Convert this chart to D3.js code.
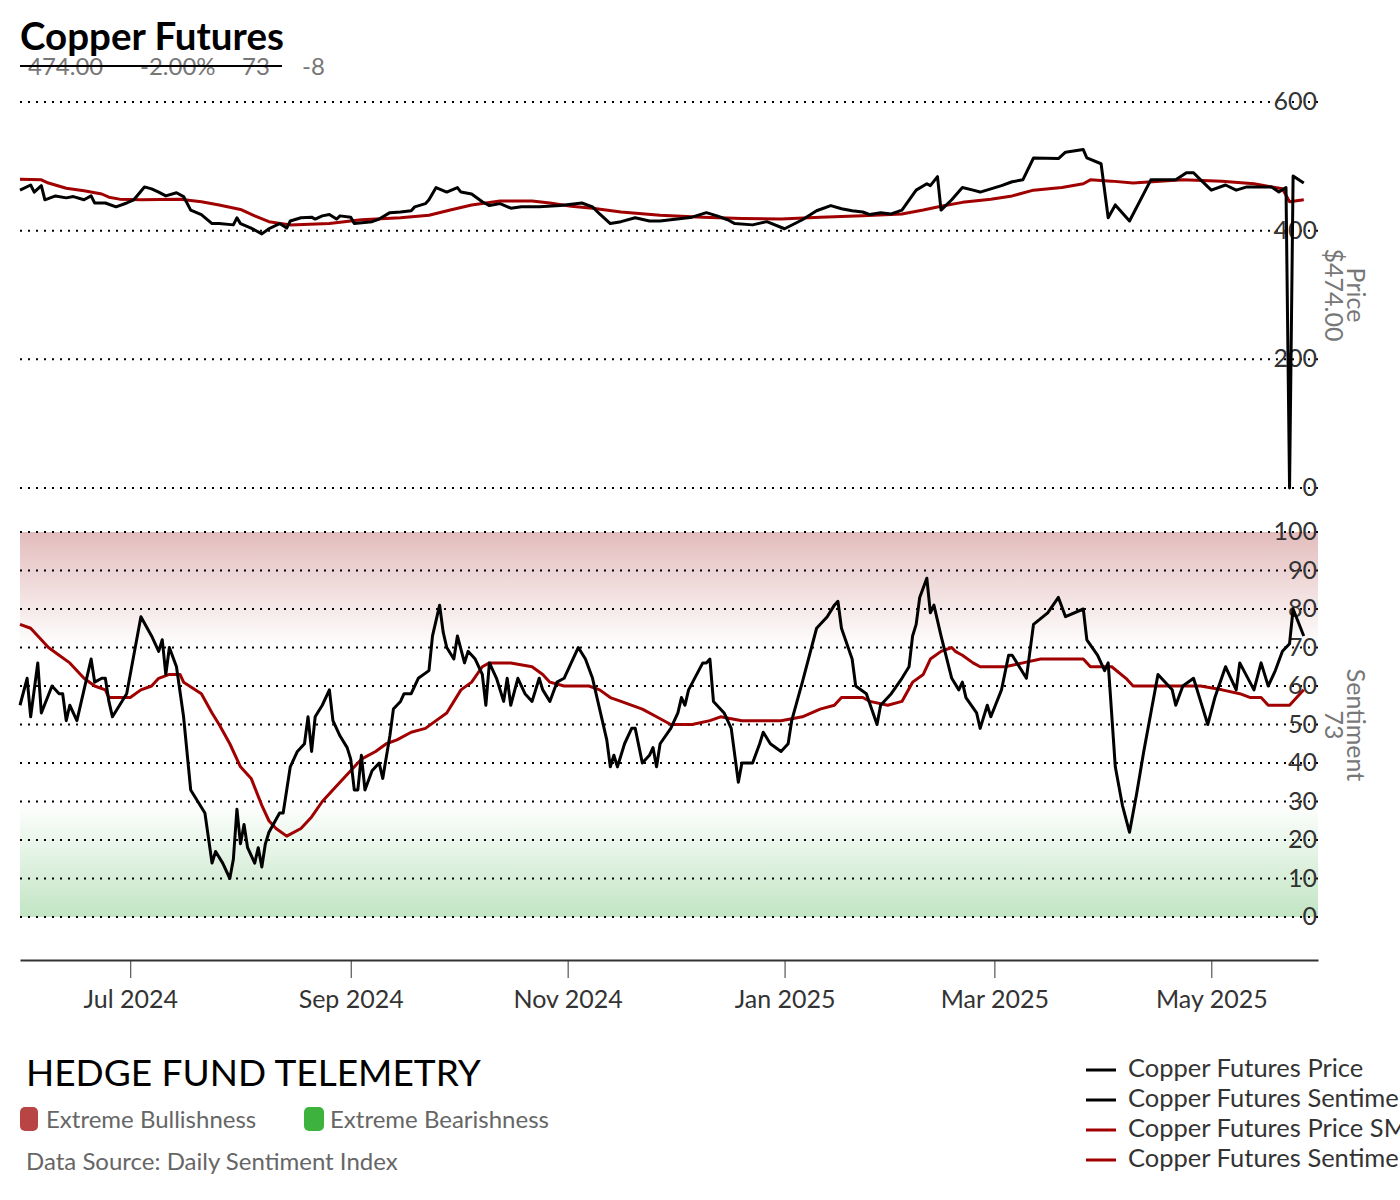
<!DOCTYPE html>
<html><head><meta charset="utf-8">
<script src="https://cdn.jsdelivr.net/npm/d3@7"></script>
<style>body{margin:0;background:#fff;overflow:hidden}svg{font-family:Lato,sans-serif}</style>
</head><body><svg id="c" width="1400" height="1200"></svg>
<script>
const startDate = new Date(2024,4,31);
// Day offsets from 2024-05-31 and values
const priceDays = [0,3,4,6,7,10,13,15,18,20,21,24,27,30,32,35,37,39,41,44,46,48,51,54,56,60,61,62,65,68,70,73,75,76,79,82,83,85,87,89,90,93,94,99,101,104,107,110,111,114,115,117,120,123,124,127,130,132,135,138,141,146,152,158,161,163,166,169,173,177,180,183,189,193,196,199,201,206,210,215,220,224,228,231,234,237,239,242,245,248,252,255,256,258,259,262,265,268,270,276,279,282,285,292,294,299,300,304,306,308,312,318,321,325,328,330,332,335,339,342,345,352,354,356,357,358,361];
const priceVals = [463,471,460,470,448,454,451,453,448,454,443,443,437,443,448,468,465,460,454,459,453,432,425,411,411,409,420,411,404,395,403,411,404,415,420,421,418,423,425,418,423,421,411,414,418,428,429,431,437,442,448,467,460,467,460,457,445,439,442,435,437,437,439,443,437,426,411,414,420,415,415,417,421,428,423,417,411,409,414,403,417,431,439,434,431,429,425,428,426,432,463,473,470,484,432,448,467,463,460,470,476,479,513,512,522,526,513,504,420,440,415,479,479,479,490,490,479,463,471,463,468,468,460,467,0,485,474];
const priceSmaDays = [0,6,8,13,18,23,25,28,34,45,51,56,62,66,70,76,87,96,107,115,121,127,135,144,149,155,161,169,180,192,203,214,225,237,248,254,259,265,273,279,285,293,299,301,307,313,327,338,347,352,355,357,361];
const priceSmaVals = [480,479,474,466,462,457,452,449,448,449,445,440,433,423,414,409,411,417,420,424,432,440,446,446,443,438,435,429,424,421,419,418,421,423,426,432,438,444,449,454,463,467,473,479,477,474,479,477,473,468,465,445,448];
const sentDays = [0,2,3,5,6,9,11,12,13,14,16,18,20,21,23,24,25,26,28,30,32,34,37,39,40,41,42,44,46,48,50,52,54,55,57,59,60,61,62,63,64,66,67,68,69,70,73,74,75,76,78,80,81,82,83,85,87,88,90,92,93,94,95,96,97,99,101,102,104,105,107,108,110,112,115,116,118,119,120,122,123,125,126,128,130,131,132,134,136,137,138,140,142,144,146,147,149,151,153,155,157,159,161,163,165,166,167,168,170,172,173,175,177,178,179,180,183,185,186,187,188,192,193,194,195,198,200,202,203,206,208,209,211,214,216,217,220,224,227,229,230,231,234,235,238,241,242,245,248,250,251,252,253,255,256,257,259,262,264,265,266,269,270,272,273,276,278,279,283,285,289,292,294,299,300,303,305,306,308,310,312,314,316,318,320,324,325,327,330,332,334,336,339,342,343,347,349,351,353,355,357,358,361];
const sentVals = [55,62,52,66,53,60,58,58,51,55,51,59,67,61,62,62,56,52,55,58,68,78,73,69,72,63,70,65,52,33,30,27,14,17,14,10,15,28,19,24,18,14,18,13,19,22,27,27,33,39,43,45,52,43,52,55,59,51,47,44,41,33,33,42,33,38,40,36,47,54,56,58,58,62,64,73,81,74,70,67,73,66,69,67,63,55,66,62,56,62,55,62,58,56,62,59,56,61,62,66,70,67,62,54,46,39,42,39,45,49,49,40,42,44,39,45,49,53,57,55,59,66,66,67,56,53,49,35,40,40,45,48,45,43,45,51,61,75,78,81,82,75,67,60,58,50,55,58,62,65,73,76,83,88,79,81,73,62,59,61,57,53,49,55,52,59,68,68,62,76,79,83,78,80,72,68,64,66,39,29,22,32,43,53,63,59,55,60,62,56,50,57,65,59,66,59,66,60,64,69,71,80,73];
const sentSmaDays = [0,3,6,8,11,14,18,21,24,25,28,31,34,37,39,42,45,46,51,54,56,59,62,65,68,70,72,75,79,82,85,89,92,96,100,103,106,110,114,117,120,124,127,130,132,138,144,147,149,153,160,163,166,169,175,179,183,189,194,197,203,209,214,220,225,229,231,237,239,244,248,251,254,256,259,262,263,265,268,270,273,277,282,287,296,299,301,307,311,313,318,324,330,332,338,343,346,349,351,357,359,361];
const sentSmaVals = [76,75,72,70,68,66,62,60,59,57,57,57,59,60,62,63,63,61,58,53,50,45,39,36,29,25,23,21,23,26,30,34,37,41,43,45,46,48,49,51,53,59,61,65,66,66,65,63,61,60,60,59,57,56,54,52,50,50,51,52,51,51,51,52,54,55,57,57,56,55,56,61,63,67,69,70,69,68,66,65,65,65,66,67,67,67,65,65,62,60,60,60,60,60,59,58,57,57,55,55,57,59];
const priceTicks = [0,200,400,600];
const sentTicks = [0,10,20,30,40,50,60,70,80,90,100];
const monthTicks = [new Date(2024,6,1),new Date(2024,8,1),new Date(2024,10,1),new Date(2025,0,1),new Date(2025,2,1),new Date(2025,4,1)];
const legendNames = ["Copper Futures Price","Copper Futures Sentiment","Copper Futures Price SMA","Copper Futures Sentiment SMA"];
const legendColors = ["#000","#000","#a00000","#a00000"];

const toDate = d => d3.timeDay.offset(startDate, d);
const svg = d3.select("#c");
const x = d3.scaleTime().domain([startDate, new Date(2025,4,31)]).range([20,1318]);
const yP = d3.scaleLinear().domain([0,600]).range([488,102]);
const yS = d3.scaleLinear().domain([0,100]).range([917,532]);

const defs = svg.append("defs");
const gr = defs.append("linearGradient").attr("id","gr").attr("x1",0).attr("x2",0).attr("y1",0).attr("y2",1);
gr.append("stop").attr("offset","0%").attr("stop-color","#e3bcbc");
gr.append("stop").attr("offset","100%").attr("stop-color","#ffffff");
const gg = defs.append("linearGradient").attr("id","gg").attr("x1",0).attr("x2",0).attr("y1",0).attr("y2",1);
gg.append("stop").attr("offset","0%").attr("stop-color","#ffffff");
gg.append("stop").attr("offset","100%").attr("stop-color","#c2e5c4");
svg.append("rect").attr("x",20).attr("width",1298).attr("y",yS(100)).attr("height",yS(70)-yS(100)).attr("fill","url(#gr)");
svg.append("rect").attr("x",20).attr("width",1298).attr("y",yS(30)).attr("height",yS(0)-yS(30)).attr("fill","url(#gg)");

function grid(scale, ticks){
  const g = svg.append("g");
  ticks.forEach(t=>{
    g.append("line").attr("x1",20).attr("x2",1318).attr("y1",scale(t)).attr("y2",scale(t))
      .attr("stroke","#000").attr("stroke-width",2).attr("stroke-dasharray","2,6");
    g.append("text").attr("x",1317).attr("y",scale(t)+8).attr("text-anchor","end")
      .attr("font-size",25).attr("fill","#333").text(t);
  });
}
grid(yP, priceTicks); grid(yS, sentTicks);

function axisTitle(lines, cy){
  const t = svg.append("text").attr("transform",`translate(1347,${cy}) rotate(90)`)
    .attr("text-anchor","middle").attr("font-size",25).attr("fill","#777");
  lines.forEach((l,i)=>t.append("tspan").attr("x",0).attr("dy",i?22:0).text(l));
}
axisTitle(["Price","$474.00"], 295);
axisTitle(["Sentiment","73"], 725);

function line(days, vals, y, color){
  const data = days.map((d,i)=>[toDate(d), vals[i]]);
  svg.append("path").datum(data).attr("fill","none").attr("stroke",color).attr("stroke-width",3)
    .attr("stroke-linejoin","round").attr("d", d3.line().x(d=>x(d[0])).y(d=>y(d[1])));
}
line(priceSmaDays, priceSmaVals, yP, "#a00000");
line(priceDays, priceVals, yP, "#000");
line(sentSmaDays, sentSmaVals, yS, "#a00000");
line(sentDays, sentVals, yS, "#000");

const xa = svg.append("g").attr("transform","translate(0,960)")
  .call(d3.axisBottom(x).tickValues(monthTicks).tickFormat(d3.timeFormat("%b %Y")).tickSize(18).tickPadding(12).tickSizeOuter(0));
xa.select(".domain").attr("stroke","#333").attr("stroke-width",2);
xa.selectAll(".tick line").attr("stroke","#333");
xa.selectAll("text").attr("font-size",25).attr("fill","#333").attr("font-family","Lato");

svg.append("text").attr("x",20).attr("y",50).attr("font-size",38.5).attr("font-weight","bold").text("Copper Futures");
const sub = [["474.00",28],["-2.00%",140],["73",242],["-8",302]];
sub.forEach(s=>svg.append("text").attr("x",s[1]).attr("y",75).attr("font-size",24).attr("fill","#777").text(s[0]));
svg.append("line").attr("x1",20).attr("x2",282).attr("y1",66).attr("y2",66).attr("stroke","#000").attr("stroke-width",2);

svg.append("text").attr("x",26).attr("y",1086).attr("font-size",37).attr("fill","#000").text("HEDGE FUND TELEMETRY");
svg.append("rect").attr("x",20).attr("y",1107).attr("width",18).attr("height",24).attr("rx",5).attr("fill","#b84444");
svg.append("text").attr("x",46).attr("y",1128).attr("font-size",24).attr("fill","#666").text("Extreme Bullishness");
svg.append("rect").attr("x",304).attr("y",1107).attr("width",20).attr("height",24).attr("rx",5).attr("fill","#3db33d");
svg.append("text").attr("x",330).attr("y",1128).attr("font-size",24).attr("fill","#666").text("Extreme Bearishness");
svg.append("text").attr("x",26).attr("y",1170).attr("font-size",24).attr("fill","#666").text("Data Source: Daily Sentiment Index");
legendNames.forEach((n,i)=>{
  const yy = 1068 + i*30;
  svg.append("line").attr("x1",1086).attr("x2",1116).attr("y1",yy+2).attr("y2",yy+2).attr("stroke",legendColors[i]).attr("stroke-width",3);
  svg.append("text").attr("x",1128).attr("y",yy+9).attr("font-size",25.5).attr("fill","#333").text(n);
});
</script></body></html>
